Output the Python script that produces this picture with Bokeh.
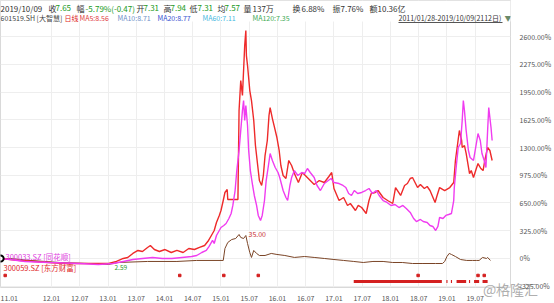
from bokeh.plotting import figure
from bokeh.models import Range1d, FixedTicker, Label, BoxAnnotation
from bokeh.embed import file_html
from bokeh.resources import INLINE

FONT = "Noto Sans CJK SC"

# ---------------- data (fractional year, % change since 2011/01/28) ----------------
# 300059.SZ 东方财富
em_t = [2011.10, 2011.27, 2011.44, 2011.70, 2011.96, 2012.22, 2012.49, 2012.83, 2013.01, 2013.15,
        2013.27, 2013.35, 2013.44, 2013.53, 2013.61, 2013.70, 2013.75, 2013.82, 2013.91, 2014.01,
        2014.12, 2014.22, 2014.33, 2014.43, 2014.53, 2014.62, 2014.71, 2014.78, 2014.83, 2014.88,
        2014.92, 2014.97, 2015.00, 2015.04, 2015.07, 2015.11, 2015.12, 2015.30, 2015.32, 2015.35,
        2015.38, 2015.42, 2015.44, 2015.45, 2015.47, 2015.51, 2015.54, 2015.58, 2015.61, 2015.65,
        2015.68, 2015.72, 2015.75, 2015.78, 2015.82, 2015.85, 2015.87, 2015.91, 2015.94, 2015.99,
        2016.03, 2016.06, 2016.10, 2016.15, 2016.20, 2016.25, 2016.30, 2016.37, 2016.44, 2016.51,
        2016.58, 2016.65, 2016.74, 2016.83, 2016.91, 2016.96, 2017.00, 2017.09, 2017.17, 2017.24,
        2017.29, 2017.38, 2017.43, 2017.49, 2017.57, 2017.62, 2017.66, 2017.73, 2017.78, 2017.87,
        2017.95, 2018.04, 2018.09, 2018.18, 2018.25, 2018.30, 2018.35, 2018.39, 2018.48, 2018.53,
        2018.60, 2018.65, 2018.70, 2018.79, 2018.82, 2018.87, 2018.96, 2019.05, 2019.12, 2019.15,
        2019.19, 2019.22, 2019.26, 2019.27, 2019.31, 2019.34, 2019.40, 2019.43, 2019.47, 2019.52,
        2019.55, 2019.60, 2019.64, 2019.67, 2019.72, 2019.76, 2019.80]
em_v = [0, -12, -23, -35, -47, -59, -59, -59, -59, -35,
        0, 12, 59, 94, 82, 129, 152, 105, 82, 105,
        70, 94, 70, 117, 105, 129, 152, 211, 269, 328,
        422, 504, 562, 679, 773, 808, 691, 691, 1733, 2084,
        1909, 2494, 2670, 2377, 2260, 1967, 1850, 1616, 1323, 1089,
        913, 855, 972, 1206, 1382, 1675, 1768, 1639, 1557, 1417,
        1265, 1089, 972, 937, 1148, 1089, 995, 890, 1007, 960,
        913, 866, 913, 890, 960, 1007, 820, 679, 714, 621,
        644, 562, 621, 597, 527, 679, 761, 773, 796, 714,
        679, 644, 831, 738, 855, 878, 937, 948, 831, 866,
        820, 843, 796, 656, 726, 831, 796, 831, 890, 1148,
        1347, 1499, 1382, 1300, 1323, 1230, 995, 1030, 948, 1054,
        1112, 1054, 1030, 1148, 1300, 1265, 1148]

# 300033.SZ 同花顺
ths_t = [2011.10, 2011.27, 2011.53, 2011.96, 2012.49, 2012.83, 2013.09, 2013.27, 2013.44, 2013.61,
         2013.79, 2013.96, 2014.13, 2014.31, 2014.48, 2014.57, 2014.66, 2014.74, 2014.79, 2014.85,
         2014.88, 2014.92, 2014.97, 2015.00, 2015.05, 2015.09, 2015.14, 2015.18, 2015.21, 2015.25,
         2015.28, 2015.32, 2015.35, 2015.38, 2015.40, 2015.42, 2015.44, 2015.47, 2015.49, 2015.52,
         2015.56, 2015.59, 2015.63, 2015.66, 2015.70, 2015.73, 2015.77, 2015.80, 2015.84, 2015.87,
         2015.91, 2015.96, 2016.01, 2016.04, 2016.10, 2016.15, 2016.18, 2016.22, 2016.25, 2016.30,
         2016.36, 2016.43, 2016.48, 2016.53, 2016.58, 2016.65, 2016.70, 2016.76, 2016.83, 2016.90,
         2016.95, 2017.00, 2017.09, 2017.16, 2017.21, 2017.26, 2017.31, 2017.36, 2017.42, 2017.49,
         2017.56, 2017.62, 2017.68, 2017.75, 2017.80, 2017.87, 2017.94, 2018.01, 2018.08, 2018.15,
         2018.22, 2018.28, 2018.35, 2018.41, 2018.46, 2018.53, 2018.58, 2018.65, 2018.70, 2018.75,
         2018.80, 2018.84, 2018.87, 2018.93, 2018.98, 2019.03, 2019.08, 2019.12, 2019.13, 2019.17,
         2019.20, 2019.24, 2019.27, 2019.29, 2019.31, 2019.34, 2019.38, 2019.41, 2019.47, 2019.50,
         2019.55, 2019.59, 2019.62, 2019.66, 2019.69, 2019.72, 2019.74, 2019.78, 2019.80]
ths_v = [0, -12, -35, -47, -59, -70, -59, -35, -12, 0,
         12, 0, 0, 12, 23, 35, 70, 94, 141, 211,
         176, 269, 328, 363, 386, 410, 468, 527, 621, 796,
         1030, 1265, 1499, 1733, 1850, 1616, 1792, 1557, 1265, 1030,
         855, 738, 621, 504, 445, 504, 679, 913, 1089, 1230,
         1148, 1066, 1007, 948, 796, 714, 679, 855, 948, 1030,
         972, 1007, 995, 1054, 1007, 948, 855, 796, 878, 913,
         937, 890, 878, 855, 831, 761, 738, 796, 761, 773,
         796, 820, 761, 796, 738, 679, 656, 621, 632, 597,
         621, 586, 539, 468, 433, 457, 433, 422, 386, 375,
         328, 375, 480, 468, 504, 515, 527, 679, 831, 1112,
         1300, 1347, 1616, 1850, 1733, 1499, 1265, 1183, 1148, 1265,
         1464, 1382, 1230, 1148, 1066, 1499, 1768, 1534, 1382]

# 601519.SH 大智慧
dzh_t = [2011.10, 2011.27, 2011.62, 2012.14, 2012.66, 2013.01, 2013.18, 2013.70, 2014.22, 2014.57,
         2015.04, 2015.07, 2015.12, 2015.19, 2015.26, 2015.32, 2015.35, 2015.40, 2015.44, 2015.47,
         2015.51, 2015.54, 2015.58, 2015.63, 2015.68, 2015.78, 2015.89, 2015.99, 2016.13, 2016.30,
         2016.48, 2016.65, 2016.83, 2017.00, 2017.17, 2017.35, 2017.52, 2017.69, 2017.87, 2018.04,
         2018.21, 2018.39, 2018.56, 2018.80, 2018.92, 2018.96, 2019.00, 2019.04, 2019.08, 2019.15,
         2019.24, 2019.35, 2019.45, 2019.52, 2019.57, 2019.63, 2019.70, 2019.72, 2019.77]
dzh_v = [0, 0, -23, -47, -59, -70, -47, -35, -35, -23,
         -23, 117, 187, 222, 234, 281, 246, 234, 269, 176,
         70, 12, 94, 59, 35, 35, 59, 47, 35, 12,
         23, 12, 0, -12, -23, -35, -47, -35, -35, -47,
         -47, -59, -59, -59, -59, -35, 23, 59, 47, 23,
         -12, -23, -23, -23, -23, 12, 0, 12, -23]

# signal marks
sig_t = [2011.18, 2014.27, 2015.05, 2015.66, 2018.49, 2019.55, 2019.66]
band_start = [2017.35, 2018.99, 2019.07, 2019.17, 2019.39, 2019.48, 2019.63]
band_end = [2018.91, 2019.01, 2019.09, 2019.34, 2019.41, 2019.57, 2019.72]

# axes
y_ticks = [-325, 0, 325, 650, 975, 1300, 1625, 1950, 2275, 2600]
y_tick_labels = ["-325.00%", "0%", "325.00%", "650.00%", "975.00%", "1300.00%",
                 "1625.00%", "1950.00%", "2275.00%", "2600.00%"]
x_ticks = [2011.097, 2012.0, 2012.5, 2013.0, 2013.5, 2014.0, 2014.5, 2015.0, 2015.5,
           2016.0, 2016.5, 2017.0, 2017.5, 2018.0, 2018.5, 2019.0, 2019.5]
x_tick_labels = ["11.01", "12.01", "12.07", "13.01", "13.07", "14.01", "14.07", "15.01", "15.07",
                 "16.01", "16.07", "17.01", "17.07", "18.01", "18.07", "19.01", "19.07"]

header1 = [("2019/10/09", "#333333"), ("收", "#333333"), ("7.65", "#1a9a1a"), ("幅", "#333333"),
           ("-5.79%(-0.47)", "#1a9a1a"), ("开", "#333333"), ("7.31", "#1a9a1a"), ("高", "#333333"),
           ("7.94", "#1a9a1a"), ("低", "#333333"), ("7.31", "#1a9a1a"), ("均", "#333333"),
           ("7.57", "#1a9a1a"), ("量", "#333333"), ("137万", "#333333"), ("换", "#333333"),
           ("6.88%", "#333333"), ("振", "#333333"), ("7.76%", "#333333"), ("额", "#333333"),
           ("10.36亿", "#333333")]
header1_x = [0, 48, 55, 76, 85, 136, 143, 163, 170, 189, 197, 217, 224, 243, 252, 292, 301, 332, 340, 369, 377]
header2 = [("601519.SH [大智慧]", "#444444"), ("日线", "#e02828"), ("MA5:8.56", "#e03c3c"),
           ("MA10:8.71", "#6e8fc8"), ("MA20:8.77", "#3550d0"), ("MA60:7.11", "#45b8e0"),
           ("MA120:7.35", "#3caa55")]
header2_x = [0, 64, 79, 117, 157, 202, 252]
range_text = "2011/01/28-2019/10/09(2112日)"
watermark = "@格隆汇"

# ---------------- figure ----------------
W, H = 554, 303
BOTTOM = 16
Y0, Y1 = -340, 3022          # frame spans canvas rows 0..287; 0% at row 258, 2600% at row 36
PX_PER_UNIT = 287 / (Y1 - Y0)
p = figure(width=W, height=H, output_backend="svg", toolbar_location=None,
           x_range=Range1d(2011.097, 2020.125), y_range=Range1d(Y0, Y1),
           y_axis_location="right", min_border_left=0, min_border_right=0,
           min_border_top=0, min_border_bottom=BOTTOM)
p.background_fill_color = "white"
p.border_fill_color = "white"
p.outline_line_color = "#d9d9d9"

# grid
p.xgrid.ticker = FixedTicker(ticks=x_ticks)
p.ygrid.ticker = FixedTicker(ticks=y_ticks)
p.xgrid.grid_line_color = "#eeeeee"
p.ygrid.grid_line_color = "#eeeeee"

# axes
p.xaxis.ticker = FixedTicker(ticks=x_ticks)
p.xaxis.major_label_overrides = {t: l for t, l in zip(x_ticks, x_tick_labels)}
p.yaxis.ticker = FixedTicker(ticks=y_ticks)
p.yaxis.major_label_overrides = {t: l for t, l in zip(y_ticks, y_tick_labels)}
for ax in (p.xaxis[0], p.yaxis[0]):
    ax.axis_line_color = None
    ax.major_tick_line_color = None
    ax.minor_tick_line_color = None
    ax.major_label_text_font = FONT
    ax.major_label_text_color = "#555555"
    ax.major_label_text_font_size = "7px"
    ax.major_label_standoff = 3
p.xaxis.major_label_text_align = "left"
p.xaxis.major_label_standoff = 1
# watermark rendered as the x-axis label, overlapping the tick-label row at the right end
xa = p.xaxis[0]
xa.axis_label = watermark
xa.axis_label_text_font = FONT
xa.axis_label_text_font_size = "14px"
xa.axis_label_text_font_style = "normal"
xa.axis_label_text_color = "#a4a4a4"
xa.axis_label_text_alpha = 0.9
xa.axis_label_standoff = -25
xa.axis_label_align = "end"


def cy2data(cy):
    """canvas row -> data value (frame top is canvas row 0)"""
    return Y1 - cy / PX_PER_UNIT


# white band behind the header so grid lines stop under it
p.add_layout(BoxAnnotation(left=0, right=520, left_units="screen", right_units="screen",
                           top=Y1, bottom=cy2data(21), fill_color="white", fill_alpha=1,
                           line_color=None))

# series
p.line(dzh_t, dzh_v, line_color="#7a4426", line_width=1)
p.line(em_t, em_v, line_color="#ee2a2a", line_width=1.4)
p.line(ths_t, ths_v, line_color="#f03cf0", line_width=1.4)

# signal marks
p.scatter(sig_t, [-199] * len(sig_t), marker="square", size=2.5, color="#d42020")
p.segment(band_start, [-269] * len(band_start), band_end, [-269] * len(band_end),
          line_color="#d42020", line_width=3)

# start circle
p.scatter([dzh_t[0]], [0], marker="circle", size=6, fill_color="white",
          line_color="black", line_width=2)


def add_label(x, cy, text, color, size, **kw):
    p.add_layout(Label(x=x, y=cy2data(cy), x_units="screen", y_units="data", text=text,
                       text_color=color, text_font_size=size, text_font=FONT,
                       text_baseline="middle", **kw))


for (txt, col), x in zip(header1, header1_x):
    add_label(x, 7.5, txt, col, "8px")
for (txt, col), x in zip(header2, header2_x):
    add_label(x, 17.5, txt, col, "7px")
add_label(398, 17.5, range_text, "#333333", "7px")
p.add_layout(BoxAnnotation(left=398, right=502, left_units="screen", right_units="screen",
                           top=cy2data(21.6), bottom=cy2data(22.4), fill_color="#555555",
                           fill_alpha=1, line_color=None))
add_label(504, 17.5, "▼", "#6a8a6a", "7px")
add_label(511, 17.5, "▣", "#e8b030", "7px")

add_label(5, 256, "300033.SZ [同花顺]", "#e040e0", "7.5px")
add_label(3, 267, "300059.SZ [东方财富]", "#e02828", "7.5px")
add_label(114, 266.5, "2.59", "#2a9a2a", "6.5px")
add_label(248, 233, "35.00", "#c83030", "7px")

open("out.html", "w").write(file_html(p, INLINE))
